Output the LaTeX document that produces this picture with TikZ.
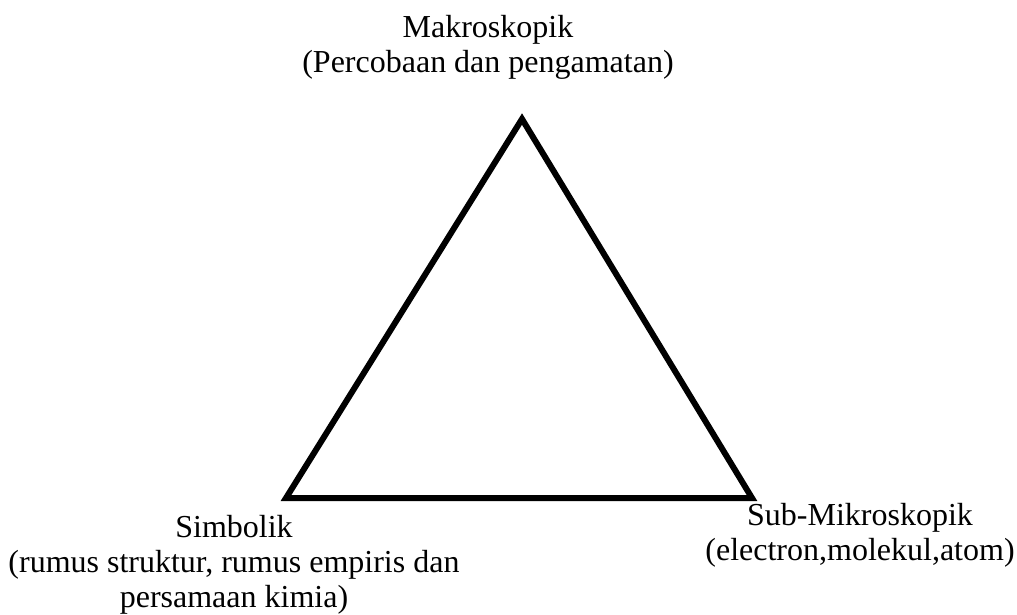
\documentclass[tikz,border=0pt]{standalone}
\usepackage{fontspec}
\setmainfont{Liberation Serif}
\usetikzlibrary{calc, positioning}

\begin{document}
\begin{tikzpicture}[x=1pt, y=-1pt]

    % =================================================================
    % 1. BATAS GAMBAR
    % =================================================================
    \useasboundingbox (0, 0) rectangle (1017, 614);

    % =================================================================
    % 2. TITIK-TITIK SUDUT SEGITIGA
    % =================================================================
    \coordinate (Atas) at (522, 119);
    \coordinate (KiriBawah) at (286, 498);
    \coordinate (KananBawah) at (752, 498);

    % =================================================================
    % 3. SEGITIGA
    % =================================================================
    \draw[line width=6pt] (Atas) -- (KiriBawah) -- (KananBawah) -- cycle;

    % =================================================================
    % 4. LABEL PADA TIAP SUDUT
    % =================================================================
    \tikzset{label teks/.style={align=center, inner sep=0pt, anchor=north,
        font=\fontsize{32}{35}\selectfont}}

    \node[label teks] (makro) at (488, 15)
        {Makroskopik\\(Percobaan dan pengamatan)};
    \node[label teks] (simbol) at (234, 515)
        {Simbolik\\(rumus struktur, rumus empiris dan\\persamaan kimia)};
    \node[label teks] (submikro) at (860, 503)
        {Sub-Mikroskopik\\(electron,molekul,atom)};

\end{tikzpicture}
\end{document}
